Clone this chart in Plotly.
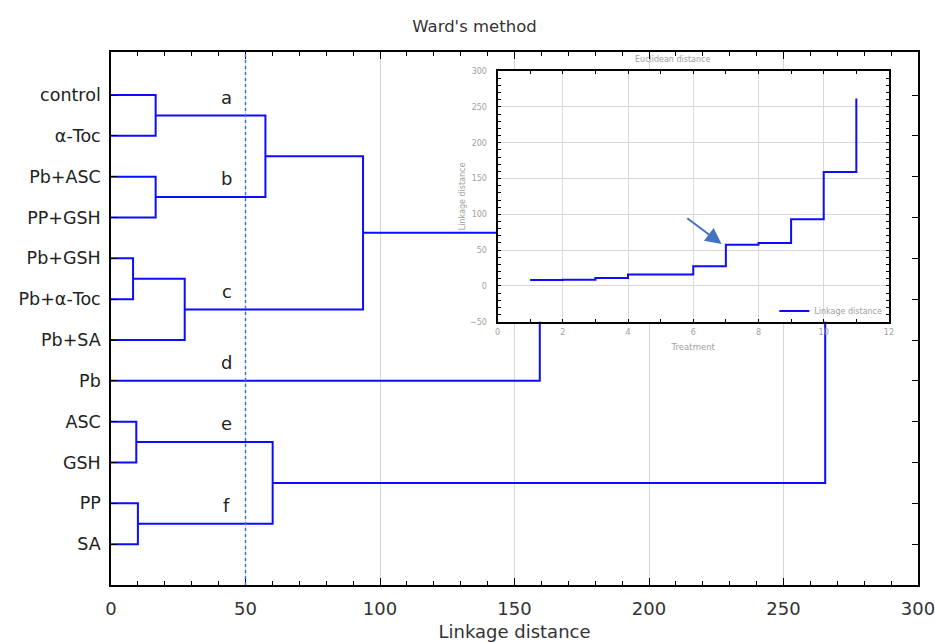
import plotly.graph_objects as go

# ---------------- data ----------------
leaves = ["control", "α-Toc", "Pb+ASC", "PP+GSH", "Pb+GSH", "Pb+α-Toc",
          "Pb+SA", "Pb", "ASC", "GSH", "PP", "SA"]
# merges (left node, right node, linkage distance); new node ids start at 12
merge_left = [0, 2, 4, 14, 12, 16, 17, 8, 10, 19, 18]
merge_right = [1, 3, 5, 6, 13, 15, 7, 9, 11, 20, 21]
merge_height = [16.6, 16.6, 8.2, 27.4, 57.4, 93.7, 159.4, 9.4, 10.0, 60.1, 265.5]

cluster_labels = ["a", "b", "c", "d", "e", "f"]
cluster_nodes = [12, 13, 15, 7, 19, 20]
cut_level = 50

# inset: linkage distance per amalgamation step
steps = [1, 2, 3, 4, 5, 6, 7, 8, 9, 10, 11]
step_dist = [8.2, 8.5, 11.0, 16.0, 16.0, 27.5, 57.5, 60.0, 93.0, 159.0, 262.0]

x_ticks = [0, 50, 100, 150, 200, 250, 300]

# ---------------- dendrogram geometry ----------------
n = len(leaves)
node_y = {i: i + 1 for i in range(n)}
node_h = {i: 0.0 for i in range(n)}
xs, ys = [], []
for k, (l, r, h) in enumerate(zip(merge_left, merge_right, merge_height)):
    nid = n + k
    xs += [node_h[l], h, h, node_h[r], None]
    ys += [node_y[l], node_y[l], node_y[r], node_y[r], None]
    node_y[nid] = (node_y[l] + node_y[r]) / 2
    node_h[nid] = h

BLUE = "#0c0cff"
FONT = "DejaVu Sans, Liberation Sans, Arial, sans-serif"
GRAYTXT = "#a0a0a0"

fig = go.Figure()
fig.add_trace(go.Scatter(x=xs, y=ys, mode="lines",
                         line=dict(color=BLUE, width=2),
                         showlegend=False, hoverinfo="skip",
                         xaxis="x", yaxis="y"))
fig.add_trace(go.Scatter(x=steps, y=step_dist, mode="lines",
                         line=dict(color=BLUE, width=2, shape="hv"),
                         name="Linkage distance", showlegend=True,
                         xaxis="x2", yaxis="y2"))

# cluster letters
for lab, nd in zip(cluster_labels, cluster_nodes):
    fig.add_annotation(x=43, y=node_y[nd] - 0.45, text=lab, showarrow=False,
                       xref="x", yref="y", font=dict(size=18, color="#222", family=FONT))

# cut line
fig.add_shape(type="line", xref="x", yref="paper", x0=cut_level, x1=cut_level,
              y0=0, y1=1, line=dict(color="#3a78d4", width=1.5, dash="dot"))

# inset arrow
fig.add_annotation(xref="x2", yref="y2", axref="x2", ayref="y2",
                   x=6.87, y=58.5, ax=5.77, ay=96, showarrow=True,
                   arrowhead=2, arrowsize=1.6, arrowwidth=2, arrowcolor="#4472C4",
                   text="")

# inset title
fig.add_annotation(xref="paper", yref="paper", x=0.696, y=0.985, text="Euclidean distance",
                   xanchor="center", yanchor="middle",
                   showarrow=False, font=dict(size=8, color=GRAYTXT, family=FONT))

fig.update_layout(
    width=935, height=642,
    margin=dict(l=111, r=17, t=52, b=57, autoexpand=False),
    paper_bgcolor="white", plot_bgcolor="white",
    font=dict(family=FONT, color="#333"),
    title=dict(text="Ward's method", x=474.5 / 935, xanchor="center", y=1 - 26 / 642,
               yanchor="middle", font=dict(size=16.5, color="#333", family=FONT)),
    xaxis=dict(range=[0, 300], tickvals=x_ticks, ticks="inside", ticklen=7,
               tickcolor="black", showline=True, linecolor="black", linewidth=1.5,
               mirror="ticks", showgrid=True, gridcolor="#d6d6d6", gridwidth=1,
               zeroline=False, ticklabelstandoff=7, ticklabeloverflow="allow",
               automargin=False,
               minor=dict(dtick=10, ticks="inside", ticklen=4, tickcolor="black", showgrid=False),
               tickfont=dict(size=18, color="#333"),
               title=dict(text="Linkage distance", font=dict(size=18, color="#333"), standoff=14)),
    yaxis=dict(range=[13, -0.054], tickvals=list(range(1, n + 1)), ticktext=leaves,
               ticks="inside", ticklen=6, tickcolor="black", showline=True,
               linecolor="black", linewidth=1.5, mirror="ticks", showgrid=False,
               automargin=False,
               zeroline=False, tickfont=dict(size=17.5, color="#222"), ticklabelstandoff=5),
    xaxis2=dict(domain=[0.479, 0.964], anchor="y2", range=[0, 12], dtick=2,
                ticks="inside", ticklen=3, tickcolor="black", showline=True,
                linecolor="black", linewidth=2, mirror="ticks", showgrid=True,
                gridcolor="#d9d9d9", zeroline=False, ticklabelstandoff=2,
                automargin=False,
                minor=dict(dtick=1, ticks="inside", ticklen=3, tickcolor="black", showgrid=False),
                tickfont=dict(size=8, color=GRAYTXT),
                title=dict(text="Treatment", font=dict(size=8.5, color=GRAYTXT), standoff=8)),
    yaxis2=dict(domain=[0.494, 0.964], anchor="x2", range=[-50, 300], dtick=50,
                ticks="inside", ticklen=3, tickcolor="black", showline=True,
                linecolor="black", linewidth=2, mirror="ticks", showgrid=True,
                gridcolor="#d9d9d9", zeroline=False, automargin=False,
                minor=dict(dtick=10, ticks="inside", ticklen=3, tickcolor="black", showgrid=False),
                tickfont=dict(size=8, color=GRAYTXT), ticklabelstandoff=7,
                title=dict(text="Linkage distance", font=dict(size=8, color=GRAYTXT), standoff=3)),
    legend=dict(x=0.962, y=0.514, xanchor="right", yanchor="middle",
                bgcolor="rgba(0,0,0,0)", font=dict(size=8, color=GRAYTXT),
                itemwidth=30, tracegroupgap=0),
)

fig.write_html("out.html", config={"displayModeBar": False},
               post_script="document.body.style.margin='0px';")
